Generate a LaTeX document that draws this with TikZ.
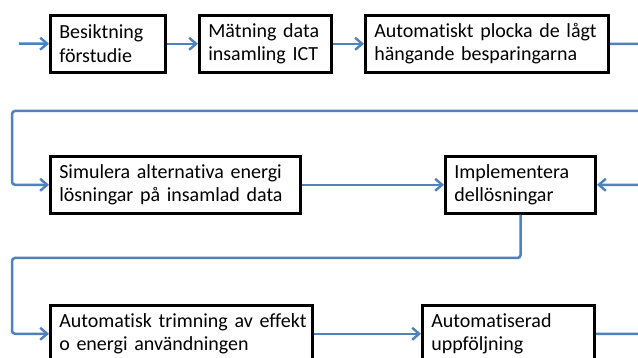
\documentclass[tikz,border=0pt]{standalone}
\usepackage{fontspec}
\setmainfont{Carlito}[Ligatures=NoCommon]
\usetikzlibrary{arrows.meta}
\definecolor{linkblue}{RGB}{79,129,189}
\begin{document}
\begin{tikzpicture}[x=1pt,y=-1pt,
  box/.style={draw=black, line width=2.6pt, fill=white, rectangle, inner xsep=9pt, inner ysep=0pt,
    align=left, font=\fontsize{20}{23.5}\selectfont, anchor=north west, minimum height=57pt},
  flow/.style={draw=linkblue, line width=2.5pt, rounded corners=3pt,
    -{Straight Barb[length=7pt,width=12pt,line width=2.4pt]}}]
\path[use as bounding box, clip] (0,0) rectangle (638,358);
\fill[white] (0,0) rectangle (638,358);

\node[box, minimum width=115.4pt, text width=97.4pt] (B1) at (49,14) {\mbox{Besiktning}\\\mbox{förstudie}};
\node[box, minimum width=132.4pt, text width=114.4pt] (B2) at (198,14) {\mbox{Mätning data}\\\mbox{insamling ICT}};
\node[box, minimum width=243.4pt, text width=225.4pt] (B3) at (364,14) {\mbox{Automatiskt plocka de lågt}\\\mbox{hängande besparingarna}};
\node[box, minimum width=250.4pt, text width=232.4pt] (B4) at (49,155) {\mbox{Simulera alternativa energi}\\\mbox{lösningar på insamlad data}};
\node[box, minimum width=150.4pt, text width=132.4pt] (B5) at (444,155) {\mbox{Implementera}\\\mbox{dellösningar}};
\node[box, minimum width=262.4pt, text width=244.4pt] (B6) at (49,304) {\mbox{Automatisk trimning av effekt}\\\mbox{o energi användningen}};
\node[box, minimum width=172.4pt, text width=154.4pt] (B7) at (421,304) {\mbox{Automatiserad}\\\mbox{uppföljning}};

\coordinate (in) at (19,43.5);
\coordinate (r) at (652,0);
\coordinate (top2) at (12,111);
\coordinate (top3) at (12,258);

\draw[flow] (in) -- (B1.west);
\draw[flow] (B1.east) -- (B2.west);
\draw[flow] (B2.east) -- (B3.west);
\draw[flow] (B3.east) -- (r |- B3.east) -- (r |- top2) -- (top2) -- (top2 |- B4.west) -- (B4.west);
\draw[flow] (B4.east) -- (B5.west);
\draw[flow] (B7.east) -- (r |- B7.east) -- (r |- B5.east) -- (B5.east);
\draw[flow] (B5.south) -- (B5.south |- top3) -- (top3) -- (top3 |- B6.west) -- (B6.west);
\draw[flow] (B6.east) -- (B7.west);
\end{tikzpicture}
\end{document}
